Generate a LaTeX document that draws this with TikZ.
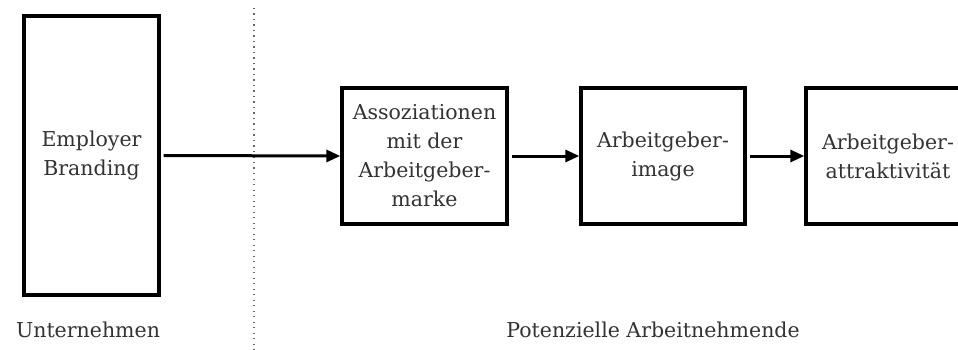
\documentclass[tikz,border=0pt]{standalone}
\usepackage{fontspec}
\setmainfont{DejaVu Serif}
\usetikzlibrary{arrows.meta}
\definecolor{txt}{HTML}{333333}
\tikzset{
  box/.style={draw=black, line width=3.4pt, fill=white, align=center, inner sep=0pt,
    font=\fontsize{20.5}{29}\selectfont, text=txt},
  conn/.style={line width=3pt, -{Triangle[length=14pt,width=12pt]}},
  lbl/.style={font=\fontsize{20.5}{29}\selectfont, text=txt, inner sep=0pt},
}
\begin{document}
\begin{tikzpicture}[x=1pt,y=-1pt]
\useasboundingbox (0,0) rectangle (958,350);
\coordinate (dtop) at (254,8);
\coordinate (dbot) at (254,350);
\draw[gray!80!black, line width=1.3pt, dash pattern=on 1.3pt off 4.2pt] (dtop) -- (dbot);
\node[box, minimum width=135pt, minimum height=279pt] (b1) at (91.5,155.5) {Employer\\Branding};
\node[box, minimum width=165pt, minimum height=136pt] (b2) at (424.5,156) {Assoziationen\\mit der\\Arbeitgeber-\\marke};
\node[box, minimum width=164pt, minimum height=136pt] (b3) at (663,156) {Arbeitgeber-\\image};
\node[box, minimum width=164pt, minimum height=136pt] (b4) at (888,156) {Arbeitgeber-\\attraktivität};
\draw[conn] ([xshift=3pt]b1.east) -- (b2.west);
\draw[conn] ([xshift=3pt]b2.east) -- (b3.west);
\draw[conn] ([xshift=3pt]b3.east) -- (b4.west);
\node[lbl] (l1) at (88,330) {Unternehmen};
\node[lbl] (l2) at (653,330) {Potenzielle Arbeitnehmende};
\end{tikzpicture}
\end{document}
